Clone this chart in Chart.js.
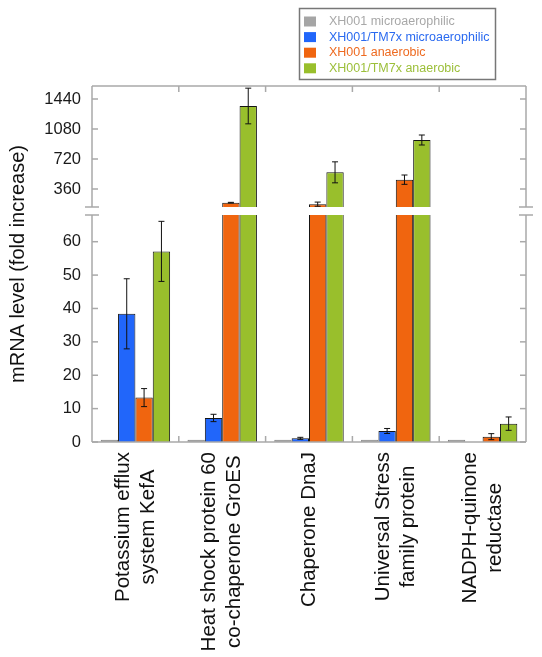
<!DOCTYPE html>
<html>
<head>
<meta charset="utf-8">
<script src="https://cdn.jsdelivr.net/npm/chart.js@4.4.1/dist/chart.umd.min.js"></script>
<style>
	html, body { margin: 0; padding: 0; background: #fff; }
	canvas { display: block; }
</style>
</head>
<body>
<canvas id="geneChart" width="542" height="657"></canvas>
<script>
// Gene categories (x axis, one entry per line of the label)
const genes = [
	["Potassium efflux", "system KefA"],
	["Heat shock protein 60", "co-chaperone GroES"],
	["Chaperone DnaJ"],
	["Universal Stress", "family protein"],
	["NADPH-quinone", "reductase"],
];

const seriesNames = [
	"XH001 microaerophilic",
	"XH001/TM7x microaerophilic",
	"XH001 anaerobic",
	"XH001/TM7x anaerobic",
];

// fold increase
const xh001Micro = [0.7, 0.7, 0.7, 0.7, 0.7];
const tm7xMicro = [38.4, 7.2, 1.1, 3.3, 0];
const xh001Anaer = [13.3, 196, 178, 472, 1.6];
const tm7xAnaer = [57.1, 1356, 560, 948, 5.5];

// error bars (+/-)
const xh001MicroErr = [0, 0, 0, 0, 0];
const tm7xMicroErr = [10.5, 1.1, 0.3, 0.75, 0];
const xh001AnaerErr = [2.7, 4, 25, 56, 0.9];
const tm7xAnaerErr = [9, 214, 126, 60, 2];

// broken y axis: lower and upper part
const lowerTicks = [0, 10, 20, 30, 40, 50, 60];
const upperTicks = [360, 720, 1080, 1440];
const lowerMax = 68;
const upperMin = 144;
const upperMax = 1596;

const seriesValues = [xh001Micro, tm7xMicro, xh001Anaer, tm7xAnaer];
const seriesErrors = [xh001MicroErr, tm7xMicroErr, xh001AnaerErr, tm7xAnaerErr];

const fills = ["#a5a5a5", "#2166fa", "#f0650f", "#99bf2c"];
const edges = ["#7f7f7f", "#151515", "#151515", "#151515"];
const legendColors = ["#a8a8a8", "#2a6af0", "#ee6a20", "#9cbf3a"];

Chart.defaults.font.family = "Arial, 'Liberation Sans', Helvetica, sans-serif";

// lower part of every bar (cut just above the lower panel, hidden by the break)
const datasets = seriesValues.map((vals, s) => ({
	label: seriesNames[s],
	data: vals.map((v) => Math.min(v, lowerMax + 2)),
	yAxisID: "yLow",
	stack: "s" + s,
	backgroundColor: fills[s],
	borderColor: edges[s],
	borderWidth: 1,
}));

// upper part, only for bars that reach past the break
seriesValues.forEach((vals, s) => {
	datasets.push({
		label: seriesNames[s] + " (upper)",
		data: vals.map((v) => (v > upperMin ? [upperMin, v] : null)),
		yAxisID: "yHigh",
		stack: "s" + s,
		backgroundColor: fills[s],
		borderColor: edges[s],
		borderWidth: 1,
	});
});

// frame, axis break, inner ticks and error bars
const framePlugin = {
	id: "brokenFrame",
	afterDatasetsDraw(chart) {
		const { ctx, chartArea: a, scales } = chart;
		const hi = scales.yHigh;
		const lo = scales.yLow;
		const gap = scales.yGap;
		const xs = scales.x;
		const line = (x1, y1, x2, y2) => {
			ctx.beginPath();
			ctx.moveTo(x1, y1);
			ctx.lineTo(x2, y2);
			ctx.stroke();
		};
		ctx.save();
		ctx.fillStyle = "#fff";
		ctx.fillRect(a.left + 1, gap.top, a.right - a.left - 2, gap.bottom - gap.top);

		ctx.strokeStyle = "#a9a9a9";
		ctx.lineWidth = 1.5;
		[a.left, a.right].forEach((px) => {
			line(px, hi.top, px, hi.bottom);
			line(px, lo.top, px, lo.bottom);
			line(px - 7, hi.bottom, px + 7, hi.bottom);
			line(px - 7, lo.top, px + 7, lo.top);
		});
		line(a.left, a.top, a.right, a.top);
		line(a.left, a.bottom, a.right, a.bottom);

		[[hi, upperTicks], [lo, lowerTicks]].forEach(([sc, ticks]) => {
			ticks.forEach((v) => {
				const py = sc.getPixelForValue(v);
				line(a.left, py, a.left + 6, py);
				line(a.right - 6, py, a.right, py);
			});
		});
		for (let i = 0; i < genes.length - 1; i++) {
			const px = xs.getPixelForValue(i + 0.5);
			line(px, a.top, px, a.top + 6);
			line(px, a.bottom - 6, px, a.bottom);
		}

		ctx.strokeStyle = "#111";
		ctx.lineWidth = 1;
		seriesValues.forEach((vals, s) => {
			const meta = chart.getDatasetMeta(s);
			vals.forEach((v, i) => {
				const e = seriesErrors[s][i];
				if (!e) return;
				const sc = v > lowerMax ? hi : lo;
				const bx = meta.data[i].x;
				const yUp = sc.getPixelForValue(v + e);
				const yDown = sc.getPixelForValue(v - e);
				line(bx, yUp, bx, yDown);
				line(bx - 3, yUp, bx + 3, yUp);
				line(bx - 3, yDown, bx + 3, yDown);
			});
		});
		ctx.restore();
	},
	afterDraw(chart) {
		const { ctx, chartArea: a, scales } = chart;
		ctx.save();

		// category labels, rotated, each line centred
		ctx.font = "20.5px Arial, 'Liberation Sans', sans-serif";
		ctx.fillStyle = "#111";
		ctx.textAlign = "center";
		ctx.textBaseline = "middle";
		genes.forEach((lines, i) => {
			const px = scales.x.getPixelForValue(i);
			const longest = Math.max(...lines.map((t) => ctx.measureText(t).width));
			ctx.save();
			ctx.translate(px, a.bottom + 10 + longest / 2);
			ctx.rotate(-Math.PI / 2);
			lines.forEach((t, j) => {
				ctx.fillText(t, 0, (j - (lines.length - 1) / 2) * 25);
			});
			ctx.restore();
		});

		// legend box
		ctx.strokeStyle = "#777";
		ctx.lineWidth = 1.5;
		ctx.strokeRect(299.5, 8.5, 196, 71);
		ctx.font = "12.5px Arial, 'Liberation Sans', sans-serif";
		ctx.textAlign = "left";
		seriesNames.forEach((name, s) => {
			const cy = 21.5 + s * 15.6;
			ctx.fillStyle = fills[s];
			ctx.fillRect(304, cy - 5, 12, 10);
			ctx.fillStyle = legendColors[s];
			ctx.fillText(name, 329, cy);
		});
		ctx.restore();
	},
};

const yAxisWidth = (s) => {
	s.width = 58;
};

const plainTick = (v) => String(v);

new Chart(document.getElementById("geneChart").getContext("2d"), {
	type: "bar",
	data: {
		labels: genes.map((g) => g.join(" ")),
		datasets: datasets,
	},
	options: {
		responsive: false,
		animation: false,
		categoryPercentage: 0.8,
		barPercentage: 1.0,
		layout: {
			padding: { top: 86, right: 16, left: 0, bottom: 0 },
		},
		plugins: {
			legend: { display: false },
			tooltip: { enabled: false },
			title: {
				display: true,
				text: "mRNA level (fold increase)",
				position: "left",
				fullSize: false,
				color: "#111",
				font: { size: 20, weight: "normal" },
				padding: { top: 6, bottom: 4 },
			},
		},
		scales: {
			x: {
				offset: true,
				grid: { display: false },
				border: { display: false },
				ticks: { display: false },
				afterFit: (s) => {
					s.height = 215;
				},
			},
			yHigh: {
				position: "left",
				stack: "frame",
				stackWeight: 121,
				weight: 3,
				stacked: false,
				min: upperMin,
				max: upperMax,
				afterBuildTicks: (s) => {
					s.ticks = upperTicks.map((v) => ({ value: v }));
				},
				grid: { display: false, drawTicks: false },
				border: { display: false },
				ticks: { padding: 11, color: "#1a1a1a", font: { size: 16.5 }, callback: plainTick },
				afterFit: yAxisWidth,
			},
			yGap: {
				position: "left",
				stack: "frame",
				stackWeight: 8,
				weight: 2,
				min: 0,
				max: 1,
				grid: { display: false, drawTicks: false },
				border: { display: false },
				ticks: { display: false },
				afterFit: yAxisWidth,
			},
			yLow: {
				position: "left",
				stack: "frame",
				stackWeight: 227,
				weight: 1,
				stacked: false,
				min: 0,
				max: lowerMax,
				afterBuildTicks: (s) => {
					s.ticks = lowerTicks.map((v) => ({ value: v }));
				},
				grid: { display: false, drawTicks: false },
				border: { display: false },
				ticks: { padding: 11, color: "#1a1a1a", font: { size: 16.5 }, callback: plainTick },
				afterFit: yAxisWidth,
			},
		},
	},
	plugins: [framePlugin],
});
</script>
</body>
</html>
